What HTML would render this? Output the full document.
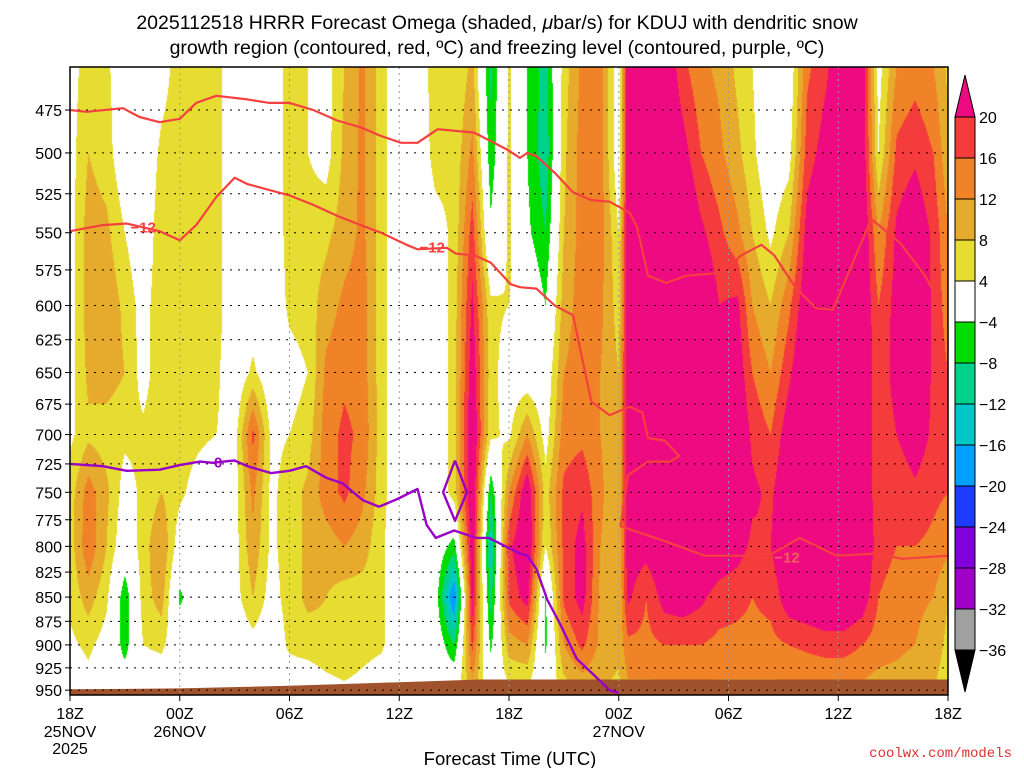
<!DOCTYPE html>
<html><head><meta charset="utf-8"><style>
html,body{margin:0;padding:0;background:#fff;}
#wrap{position:relative;width:1024px;height:768px;overflow:hidden;font-family:"Liberation Sans",sans-serif;}
canvas{position:absolute;left:70px;top:67px;}
svg{position:absolute;left:0;top:0;}
</style></head><body>
<div id="wrap">
<canvas id="cv" width="878" height="628"></canvas>
<svg id="sv" width="1024" height="768"></svg>
</div>
<script>
const levels=[450,500,550,600,650,700,750,800,850,900,950];
const times=[0,1,2,3,4,5,6,7,8,9,10,11,12,13,14,15,16,17,18,19,20,21,22,23,24,25,26,27,28,29,30,30.5,31.5,32.5,33.5,34.5,35.5,36.5,37.3,38.3,39.3,40.3,41.3,42.3,43.3,44.2,45.2,46.2,47.2,48];
const omega=[
[2,2,2,2,2,3,6,6,5,3,0],
[6,8,10,10,9,7,14,15,10,5,2],
[5,6,9,11,10,6,9,8,5,2,0],
[0,0,4,7,8,5,2,0,-7,-6,0],
[0,0,0,2,2,5,5,6,6,4,0],
[2,5,7,7,7,7,8,12,10,5,0],
[6,6,6,6,6,6,5,1,-5,0,0],
[7,6,6,6,6,5,2,0,0,0,0],
[6,6,6,6,5,4,0,0,0,0,0],
[0,0,0,0,0,2,2,2,2,0,0],
[0,0,0,1,5,17,13,11,8,2,0],
[0,0,0,0,0,3,3,3,2,0,0],
[6,6,6,5,2,4,6,6,6,5,0],
[4,4,6,6,4,6,9,9,9,6,0],
[2,2,7,10,13,14,14,10,8,7,2],
[8,9,10,13,15,17,17,12,6,8,3],
[13,13,13,14,14,15,13,10,6,6,2],
[6,6,6,6,6,6,6,5,5,5,0],
[0,0,0,0,0,0,0,0,0,0,0],
[0,0,0,0,0,0,0,0,0,0,0],
[7,6,2,0,0,0,0,0,-2,0,0],
[4,5,5,6,6,6,6,-6,-21,-8,2],
[9,13,18,21,23,25,25,24,22,17,10],
[-9,-7,-3,5,6,5,-8,-14,-10,-5,0],
[5,5,5,4,1,3,12,19,17,10,3],
[-4,-4,-3,2,0,12,24,25,22,12,3],
[-10,-11,-8,-4,0,2,6,4,-5,-5,0],
[6,7,8,10,12,14,17,17,17,12,6],
[13,14,14,14,14,15,19,22,22,17,9],
[14,14,14,13,12,12,13,12,11,11,8],
[0,0,4,6,8,8,8,8,8,9,7],
[24,24,24,24,24,24,24,23,21,15,11],
[26,26,26,26,26,26,26,22,16,15,11],
[25,26,27,27,27,27,27,25,22,16,11],
[17,22,26,27,27,27,27,26,23,16,11],
[13,16,21,26,27,27,27,25,21,16,11],
[11,13,17,20,25,27,27,24,18,15,11],
[7,9,13,21,23,25,26,22,17,15,11],
[4,5,8,12,16,19,21,19,16,15,11],
[0,0,3,8,12,16,19,20,17,15,11],
[0,2,8,15,19,23,25,25,23,16,11],
[15,18,22,24,26,27,27,26,24,17,11],
[19,22,25,27,27,27,27,27,25,18,11],
[24,25,27,27,27,27,27,27,25,18,11],
[24,24,25,25,25,25,25,25,23,16,11],
[2,4,12,16,17,17,17,18,16,14,10],
[12,17,21,22,22,20,17,16,14,13,10],
[14,19,24,26,26,23,19,16,13,12,9],
[12,16,19,19,19,19,17,15,12,10,8],
[7,9,12,14,16,16,16,13,8,7,6]];
const cbLevels=[20,16,12,8,4,-4,-8,-12,-16,-20,-24,-28,-32,-36];
const cbColors=["#ee0a80","#f53c3c","#f08228","#e6aa2d","#e6dc32","#ffffff","#00dc00","#00d28c","#00c8c8","#00a0ff","#1e3cff","#8200dc","#a000c8","#a0a0a0","#000000"];
const pTicks=[475,500,525,550,575,600,625,650,675,700,725,750,775,800,825,850,875,900,925,950];
const xTicks=[0,6,12,18,24,30,36,42,48];
const xLab1=["18Z","00Z","06Z","12Z","18Z","00Z","06Z","12Z","18Z"];
const xLab2=["25NOV","26NOV","","","","27NOV","","",""];
const upperT=[[0,475],[0.9,476],[2.9,474],[3.8,479],[4.9,482],[6,480],[6.9,471],[8,467],[9.7,469],[10.9,471],[12,471],[13.3,475],[14.6,481],[15.9,485],[17,490],[18.1,494],[19,494],[20.1,486],[22.1,488],[23.9,498],[24.6,503],[25,500],[25.5,502],[26.5,512],[27.5,524],[28.5,529],[29.5,530],[30.6,537],[31,546],[31.6,579],[32.6,584],[33.7,579],[35.6,577],[36.7,565],[37.8,558],[38.5,565],[39.7,588],[40.8,602],[41.7,603],[42.8,570],[43.8,541],[45.4,557],[46.8,580],[47.2,590]];
const lowerT=[[0,549],[0.9,547],[1.8,545],[3.1,544],[4.9,549],[6,555],[6.9,545],[8,527],[9,515],[9.7,519],[12,526],[13.3,532],[14.6,539],[15.9,545],[17,550],[18.4,558],[19,561],[20.6,560],[21.1,564],[22.1,565],[23,570],[24.1,585],[24.6,587],[25.5,588],[26.5,600],[27.5,607],[28.5,673],[29.5,684],[30.6,677],[31.3,682],[31.6,703],[32.5,705],[33.3,718],[32.8,723],[31.6,723],[30.5,735],[30.1,781],[32.5,795],[34.7,809],[36.8,809],[38.4,807],[39.9,792],[41.9,809],[44,807],[45.5,812],[48,809]];
const freezeT=[[0,725],[1.8,727],[3.1,731],[4.9,730],[6,726],[7.1,723],[7.8,724],[8.4,723],[9,722],[9.7,727],[11,733],[12,731],[12.9,727],[14,737],[14.9,742],[16,757],[16.9,763],[17.9,756],[19,747],[19.5,780],[20,792],[21,785],[22.2,792],[22.9,792],[24.6,807],[25,809],[25.5,822],[26.1,853],[26.8,878],[27.7,915],[28.6,932],[29.5,950],[30,953]];
const freezeLoop=[[21.05,722],[21.7,750],[21.05,776],[20.4,750],[21.05,722]];
const groundT=[[0,949],[6,948],[12,945],[18,941],[22.4,938],[48,938]];

const X0=70,X1=948,Y0=67,Y1=695;
const xS=t=>X0+(X1-X0)*t/48;
const yS=p=>110+837*Math.log(p/475);
const pOfY=y=>475*Math.exp((y-110)/837);
const tOfX=x=>(x-X0)*48/(X1-X0);

function colorFor(v){
 if(v>=20)return cbColors[0];
 for(let i=0;i<cbLevels.length-1;i++){ if(v>=cbLevels[i+1]) return cbColors[i+1]; }
 return cbColors[14];
}
function hex(c){return [parseInt(c.substr(1,2),16),parseInt(c.substr(3,2),16),parseInt(c.substr(5,2),16)];}
const lnL=levels.map(p=>Math.log(p));
const cv=document.getElementById('cv');const ctx=cv.getContext('2d');
const img=ctx.createImageData(cv.width,cv.height);
const tIdx=[],tFr=[];
for(let px=0;px<cv.width;px++){
 const t=tOfX(X0+px+0.5);let i=0;while(i<times.length-2&&times[i+1]<t)i++;
 let f=(t-times[i])/(times[i+1]-times[i]);f=Math.max(0,Math.min(1,f));tIdx.push(i);tFr.push(f);
}
for(let py=0;py<cv.height;py++){
 const lp=Math.log(Math.max(450,Math.min(950,pOfY(Y0+py+0.5))));
 let j=0;while(j<levels.length-2&&lnL[j+1]<lp)j++;
 const g=Math.max(0,Math.min(1,(lp-lnL[j])/(lnL[j+1]-lnL[j])));
 for(let px=0;px<cv.width;px++){
  const i=tIdx[px],f=tFr[px];
  const a=omega[i][j]*(1-g)+omega[i][j+1]*g, b=omega[i+1][j]*(1-g)+omega[i+1][j+1]*g;
  const c=hex(colorFor(a*(1-f)+b*f));const k=(py*cv.width+px)*4;
  img.data[k]=c[0];img.data[k+1]=c[1];img.data[k+2]=c[2];img.data[k+3]=255;
 }
}
ctx.putImageData(img,0,0);

const NS="http://www.w3.org/2000/svg";const sv=document.getElementById('sv');
function mk(tag,attrs,parent){const e=document.createElementNS(NS,tag);for(const k in attrs)e.setAttribute(k,attrs[k]);(parent||sv).appendChild(e);return e;}
function txt(s,attrs){const e=mk('text',attrs);e.textContent=s;return e;}
let gp=groundT.map(q=>xS(q[0])+','+yS(q[1])).join(' ')+' '+X1+','+Y1+' '+X0+','+Y1;
const ground=mk('polygon',{points:gp,fill:'#a0522d'});


pTicks.forEach(p=>{
 const l=mk('line',{x1:X0,x2:X1,y1:yS(p),y2:yS(p),stroke:'#000','stroke-width':1,'stroke-dasharray':'2,6'});
 
 
 const tl=txt(p,{x:62,y:yS(p)+6,'text-anchor':'end','font-size':16,fill:'#000'});
 
 
 mk('line',{x1:X0-5,x2:X0,y1:yS(p),y2:yS(p),stroke:'#000'});
});
xTicks.forEach((t,i)=>{
 if(i>0&&i<xTicks.length-1){const v=mk('line',{x1:xS(t),x2:xS(t),y1:Y0,y2:Y1,stroke:'#999','stroke-width':1,'stroke-dasharray':'2,4'});
 
 }
 mk('line',{x1:xS(t),x2:xS(t),y1:Y1,y2:Y1+6,stroke:'#000'});
 const a=txt(xLab1[i],{x:xS(t),y:719,'text-anchor':'middle','font-size':16});
 
 
 if(xLab2[i]){const b=txt(xLab2[i],{x:xS(t),y:737,'text-anchor':'middle','font-size':16});
 
 }
});
const yr=txt('2025',{x:xS(0),y:754,'text-anchor':'middle','font-size':16});


function line(arr,color,w,name){
 const pl=mk('polyline',{points:arr.map(q=>xS(q[0]).toFixed(1)+','+yS(q[1]).toFixed(1)).join(' '),fill:'none',stroke:color,'stroke-width':w,'stroke-linejoin':'round'});
 
 
}
line(upperT,'#f54040',2.2,'dgz-contour-upper');
line(lowerT,'#f54040',2.2,'dgz-contour-lower');
line(freezeT,'#9a00c8',2.4,'freezing-level-line');
line(freezeLoop,'#9a00c8',2.4,'freezing-level-loop');
function lab(s,t,p,c,name){
 const e=txt(s,{x:xS(t),y:yS(p)+6,'text-anchor':'middle','font-size':15,'font-weight':'bold',fill:c});
 
 
}
lab('−12',4,546,'#f54040','contour-label');
lab('−12',19.8,559,'#f54040','contour-label');
lab('−12',39.2,810,'#f06060','contour-label');
lab('0',8.1,723,'#9a00c8','contour-label');
const fr=mk('rect',{x:X0,y:Y0,width:X1-X0,height:Y1-Y0,fill:'none',stroke:'#000','stroke-width':1.5});


const cbx=955,cbw=20,cbTop=117,step=41;
const cb=mk('g',{});


mk('polygon',{points:`${cbx},${cbTop} ${cbx+cbw},${cbTop} ${cbx+cbw/2},${cbTop-42}`,fill:cbColors[0],stroke:'#000'},cb);
for(let i=0;i<cbLevels.length-1;i++){
 mk('rect',{x:cbx,y:cbTop+i*step,width:cbw,height:step,fill:cbColors[i+1],stroke:'#000'},cb);
}
const cbBot=cbTop+(cbLevels.length-1)*step;
mk('polygon',{points:`${cbx},${cbBot} ${cbx+cbw},${cbBot} ${cbx+cbw/2},${cbBot+42}`,fill:'#000',stroke:'#000'},cb);
cbLevels.forEach((v,i)=>{
 const e=txt(v<0?'−'+(-v):String(v),{x:979,y:cbTop+i*step+6,'font-size':16});
 
 
});
</script>
<svg width="1024" height="768" style="position:absolute;left:0;top:0;pointer-events:none">
<text x="497" y="29" text-anchor="middle" font-size="19.5" font-family="Liberation Sans, sans-serif">2025112518 HRRR Forecast Omega (shaded, <tspan font-style="italic">μ</tspan>bar/s) for KDUJ with dendritic snow</text>
<text x="497" y="54" text-anchor="middle" font-size="19.5" font-family="Liberation Sans, sans-serif">growth region (contoured, red, ºC) and freezing level (contoured, purple, ºC)</text>
<text x="510" y="765" text-anchor="middle" font-size="18.5" font-family="Liberation Sans, sans-serif">Forecast Time (UTC)</text>
<text x="1012" y="757" text-anchor="end" font-size="14" fill="#e03030" font-family="Liberation Mono, monospace">coolwx.com/models</text>
</svg>
</body></html>
